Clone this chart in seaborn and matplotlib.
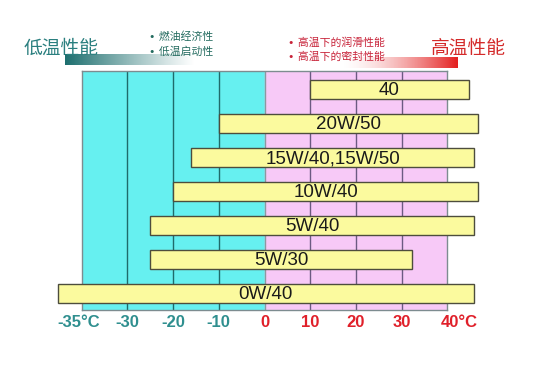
import numpy as np
import matplotlib
matplotlib.use('Agg')
import matplotlib.pyplot as plt
import matplotlib.transforms as mtransforms
from matplotlib.colors import to_rgb
import seaborn as sns

# oil grades, top to bottom, with the temperature range each bar covers
grades = ['40', '20W/50', '15W/40,15W/50', '10W/40', '5W/40', '5W/30', '0W/40']
low_temp = [10, -10, -16, -20, -25, -25, -37.6]
high_temp = [44.7, 46.8, 45.8, 46.8, 45.8, 32.2, 45.8]

ticks = [-35, -30, -20, -10, 0, 10, 20, 30, 40]
tick_labels = ['-35°C', '-30', '-20', '-10', '0', '10', '20', '30', '40°C']

left_bullets = ['• 燃油经济性', '• 低温启动性']
right_bullets = ['• 高温下的润滑性能', '• 高温下的密封性能']

CYAN = '#66f0f0'
PINK = '#f7c9f7'
YELLOW = '#fbfa9e'
TEAL = '#2f8f8f'
RED = '#e0202a'


def fwd(t):
    # one grid column per 5 deg below -30, per 10 deg above
    t = np.asarray(t, dtype=float)
    return np.where(t < -30, (t + 35) / 5.0, 1 + (t + 30) / 10.0)


def inv(u):
    u = np.asarray(u, dtype=float)
    return np.where(u < 1, -35 + 5.0 * u, -30 + 10.0 * (u - 1))


sns.set_theme(style='white')
plt.rcParams['font.family'] = ['Liberation Sans', 'DejaVu Sans']
cjk = ['Noto Sans CJK SC', 'DejaVu Sans']
bullet_font = ['DejaVu Sans', 'Noto Sans CJK SC']

fig = plt.figure(figsize=(5.5, 3.67), dpi=100)
ax = fig.add_axes([81.7 / 550, 1 - 309.5 / 367, (447.3 - 81.7) / 550, (309.5 - 71) / 367])
ax.set_xscale('function', functions=(fwd, inv))
ax.set_xlim(-35, 40)
rows = np.arange(len(grades))
ax.set_ylim(6.47, -0.544)

ax.axvspan(-35, 0, color=CYAN, zorder=0)
ax.axvspan(0, 40, color=PINK, zorder=0)
for t in ticks[1:-1]:
    col = '#1f6b6b' if t < 0 else '#6c5a82'
    if t == 0:
        col = '#8a9aa0'
    ax.axvline(t, color=col, lw=1.0, zorder=1)
for s in ax.spines.values():
    s.set_color('#7d8c90')
    s.set_linewidth(1.0)

ax.barh(rows, np.array(high_temp) - np.array(low_temp), left=low_temp, height=0.56,
        color=YELLOW, edgecolor='#4d4d3d', linewidth=1.0, zorder=3, clip_on=False)
for r, name, lo, hi in zip(rows, grades, low_temp, high_temp):
    xc = inv((fwd(lo) + fwd(hi)) / 2)
    ax.text(xc, r + 0.03, name, ha='center', va='center', fontsize=13.5,
            color='#1a1a1a', zorder=4)

ax.set_yticks([])
ax.set_xticks(ticks)
ax.set_xticklabels(tick_labels, fontsize=12, fontweight='bold')
ax.tick_params(axis='x', length=0, pad=4)
for lab, t in zip(ax.get_xticklabels(), ticks):
    lab.set_color(TEAL if t < 0 else RED)
shift = {'-35°C': -3, '40°C': 12}
for lab in ax.get_xticklabels():
    dx = shift.get(lab.get_text(), 0)
    if dx:
        lab.set_transform(lab.get_transform() +
                          mtransforms.ScaledTranslation(dx / 100, 0, fig.dpi_scale_trans))

# header overlay in pixel coordinates
top = fig.add_axes([0, 0, 1, 1], zorder=5)
top.set_xlim(0, 550)
top.set_ylim(367, 0)
top.axis('off')
top.patch.set_alpha(0)

ramp = np.linspace(0, 1, 200)
teal_img = np.zeros((1, 200, 4))
teal_img[..., :3] = to_rgb('#1c6e6e')
teal_img[..., 3] = (1 - ramp) ** 1.1
top.imshow(teal_img, extent=(65, 195, 65, 54), aspect='auto', interpolation='bilinear')
red_img = np.zeros((1, 200, 4))
red_img[..., :3] = to_rgb('#e41e1e')
red_img[..., 3] = ramp ** 1.6
top.imshow(red_img, extent=(340, 458, 68, 57), aspect='auto', interpolation='bilinear')

top.text(24, 48, '低温性能', fontsize=13.5, color='#2a7f7f', family=cjk, ha='left', va='center')
top.text(431, 48, '高温性能', fontsize=13.5, color='#d42a2a', family=cjk, ha='left', va='center')
for i, s in enumerate(left_bullets):
    top.text(149, 37 + 15 * i, s, fontsize=7.8, color='#236b5f', family=bullet_font,
             ha='left', va='center')
for i, s in enumerate(right_bullets):
    top.text(288, 43 + 13.5 * i, s, fontsize=7.8, color='#c8243a', family=bullet_font,
             ha='left', va='center')

fig.savefig('out.png', dpi=100)
